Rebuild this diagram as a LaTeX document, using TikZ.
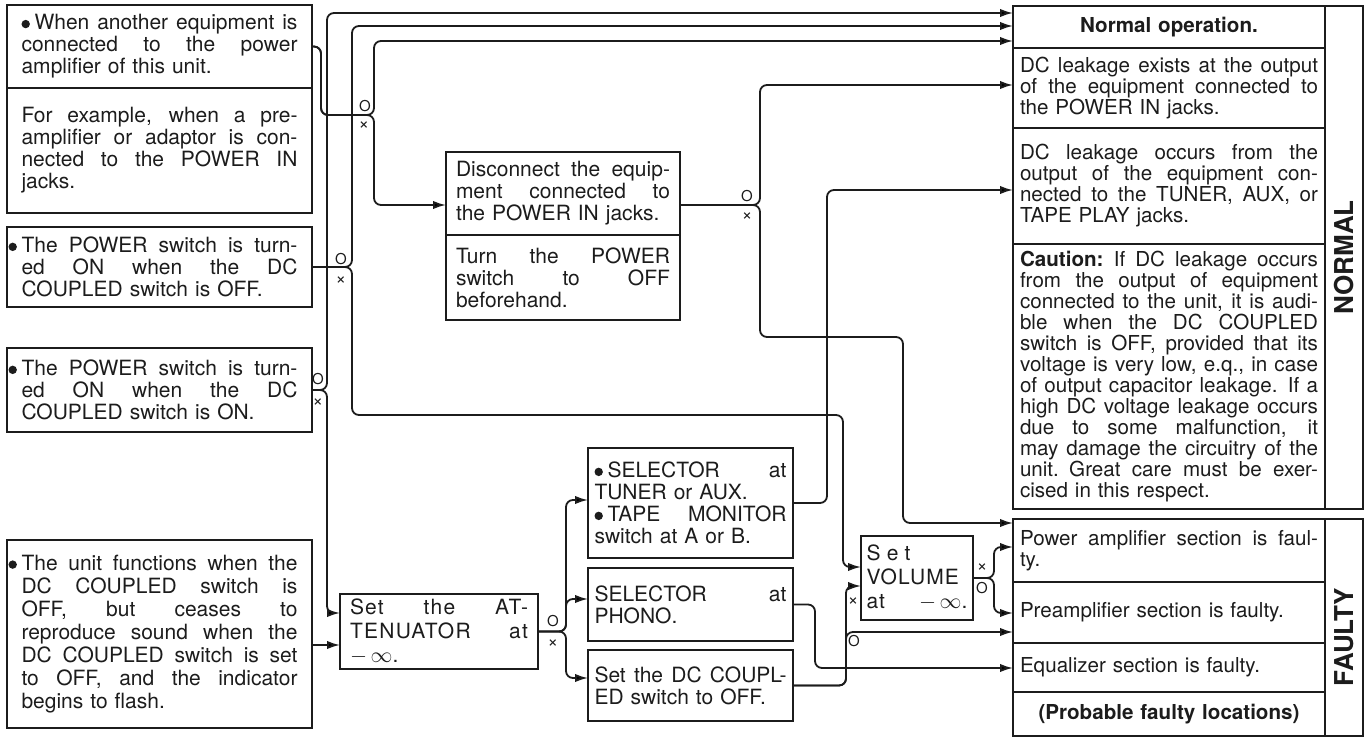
\documentclass[tikz,border=0pt]{standalone}
\usepackage{fontspec}
\setmainfont{TeX Gyre Heros}
\usepackage{tikz}
\usetikzlibrary{positioning,arrows.meta}
\definecolor{ink}{HTML}{1C1C1C}
\newcommand{\jl}[1]{\makebox[\linewidth][s]{\spaceskip=0.28em plus 4em\relax #1}}
\newcommand{\dotitem}{\makebox[6.5pt][l]{\tikz[baseline=-2.9pt]\fill[ink] (0,0) circle (2.1pt);}}
\newcommand{\minf}{$-\,\infty$}
\tikzset{
  box/.style={draw=ink,line width=1pt,outer sep=0pt,inner sep=0pt,
    anchor=north west,align=left,text=ink,font=\fontsize{10.5}{11}\selectfont},
  cond/.style={box,minimum width=152.5pt,text width=138pt},
  act/.style={box,minimum width=102.5pt,text width=96pt},
  panel/.style={box,minimum width=156pt,text width=149pt,
    font=\fontsize{10.3}{10.5}\selectfont},
  tagcol/.style={draw=ink,line width=1pt,outer sep=0pt,inner sep=0pt,
    anchor=north west,minimum width=19pt},
  tagtext/.style={rotate=90,text=ink,font=\bfseries\fontsize{13}{13}\selectfont},
  wire/.style={draw=ink,line width=0.9pt,rounded corners=3.5pt},
  arrow/.style={wire,-{Latex[length=6.5pt,width=4.2pt]}},
  flag/.style={inner sep=0pt,text=ink,font=\fontsize{7.5}{7.5}\selectfont},
  nflag/.style={inner sep=0pt,text=ink,font=\fontsize{9}{9}\selectfont}
}
\begin{document}
\begin{tikzpicture}[x=0.5pt,y=-0.5pt]
\useasboundingbox (0,0) rectangle (1372,738);

\node[cond,minimum height=41.5pt] (equip) at (7,5)
  {\jl{\dotitem When another equipment is}\\\jl{connected to the power}\\amplifier of this unit.};
\node[cond,minimum height=62.5pt,below=0pt of equip] (example)
  {\jl{For example, when a pre-}\\\jl{amplifier or adaptor is con-}\\\jl{nected to the POWER IN}\\jacks.};
\node[cond,minimum height=40pt] (pwroff) at (7,227)
  {\jl{\llap{\dotitem}The POWER switch is turn-}\\\jl{ed ON when the DC}\\COUPLED switch is OFF.};
\node[cond,minimum height=42pt] (pwron) at (7,348)
  {\jl{\llap{\dotitem}The POWER switch is turn-}\\\jl{ed ON when the DC}\\COUPLED switch is ON.};
\node[cond,minimum height=94pt,font=\fontsize{10.5}{11.5}\selectfont] (flash) at (7,540)
  {\jl{\llap{\dotitem}The unit functions when the}\\\jl{DC COUPLED switch is}\\\jl{OFF, but ceases to}\\
   \jl{reproduce sound when the}\\\jl{DC COUPLED switch is set}\\\jl{to OFF, and the indicator}\\begins to flash.};

\node[box,minimum width=117pt,minimum height=41.5pt,text width=107pt] (disc) at (446,152)
  {\jl{Disconnect the equip-}\\\jl{ment connected to}\\the POWER IN jacks.};
\node[box,minimum width=117pt,minimum height=42.5pt,text width=107pt,below=0pt of disc] (turnoff)
  {\jl{Turn the POWER}\\\jl{switch to OFF}\\beforehand.};
\node[box,minimum width=99pt,minimum height=37.5pt,text width=89pt,
  font=\fontsize{10.5}{12}\selectfont\addfontfeature{LetterSpace=6}] (atten) at (340,594)
  {\jl{Set the AT-}\\\jl{TENUATOR at}\\\minf.};
\node[act,minimum height=55pt] (sel) at (588,448)
  {\jl{\dotitem SELECTOR at}\\TUNER or AUX.\\\jl{\dotitem TAPE MONITOR}\\switch at A or B.};
\node[act,minimum height=36.5pt,below=5pt of sel] (phono) {\jl{SELECTOR at}\\PHONO.};
\node[act,minimum height=35.5pt,below=4.5pt of phono] (dcoff) {\jl{Set the DC COUPL-}\\ED switch to OFF.};
\node[box,minimum width=56pt,minimum height=42pt,text width=50.5pt,
  font=\fontsize{10.5}{12}\selectfont\addfontfeature{LetterSpace=5}] (vol) at (861,536)
  {{\addfontfeature{LetterSpace=30}Set}\\VOLUME\\\jl{at \minf.}};

\node[panel,minimum height=21pt,align=center,font=\bfseries\fontsize{10.3}{10.5}\selectfont] (opnormal) at (1013,6)
  {Normal operation.};
\node[panel,minimum height=40pt,below=0pt of opnormal] (leak1)
  {\jl{DC leakage exists at the output}\\\jl{of the equipment connected to}\\the POWER IN jacks.};
\node[panel,minimum height=58pt,below=0pt of leak1] (leak2)
  {\jl{DC leakage occurs from the}\\\jl{output of the equipment con-}\\\jl{nected to the TUNER, AUX, or}\\TAPE PLAY jacks.};
\node[panel,minimum height=132.5pt,below=0pt of leak2] (caution)
  {\jl{\textbf{Caution:} If DC leakage occurs}\\\jl{from the output of equipment}\\\jl{connected to the unit, it is audi-}\\
   \jl{ble when the DC COUPLED}\\\jl{switch is OFF, provided that its}\\\jl{voltage is very low, e.q., in case}\\
   \jl{of output capacitor leakage. If a}\\\jl{high DC voltage leakage occurs}\\\jl{due to some malfunction, it}\\
   \jl{may damage the circuitry of the}\\\jl{unit. Great care must be exer-}\\cised in this respect.};
\node[tagcol,minimum height=251.5pt,label={[tagtext]center:NORMAL}] (normtag) at (opnormal.north east) {};

\node[panel,minimum height=31.5pt] (pwramp) at (1013,519) {\jl{Power amplifier section is faul-}\\ty.};
\node[panel,minimum height=30.5pt,below=0pt of pwramp] (preamp) {Preamplifier section is faulty.};
\node[panel,minimum height=24.5pt,below=0pt of preamp] (eqsec) {Equalizer section is faulty.};
\node[panel,minimum height=22pt,below=0pt of eqsec,align=center,font=\bfseries\fontsize{10.3}{10.5}\selectfont] (probable)
  {(Probable faulty locations)};
\node[tagcol,minimum height=108.5pt,label={[yshift=-4.75pt,tagtext]center:FAULTY}] (faulttag) at (pwramp.north east) {};

\coordinate (inOK1) at ([yshift=-3.5pt]opnormal.north west);
\coordinate (inOK2) at ([yshift=-10pt]opnormal.north west);
\coordinate (inOK3) at ([yshift=-17.5pt]opnormal.north west);
\coordinate (inLeak1) at ([yshift=-18.5pt]leak1.north west);
\coordinate (inLeak2) at ([yshift=-31pt]leak2.north west);
\coordinate (inPwr1) at ([yshift=-2pt]pwramp.north west);
\coordinate (inPwr2) at ([yshift=-14pt]pwramp.north west);
\coordinate (inPre1) at ([yshift=-15.5pt]preamp.north west);
\coordinate (inPre2) at ([yshift=-25pt]preamp.north west);
\coordinate (inEq) at ([yshift=-12.5pt]eqsec.north west);
\coordinate (discIn) at ([yshift=-26.5pt]disc.north west);
\coordinate (discOut) at (disc.east |- discIn);
\coordinate (attIn1) at ([yshift=-9.5pt]atten.north west);
\coordinate (attIn2) at ([yshift=-25.5pt]atten.north west);
\coordinate (selIn) at ([yshift=-26pt]sel.north west);
\coordinate (phonoIn) at ([yshift=-15.5pt]phono.north west);
\coordinate (dcoffIn) at ([yshift=-14pt]dcoff.north west);
\coordinate (volIn1) at ([yshift=-15.5pt]vol.north west);
\coordinate (volIn2) at ([yshift=-25pt]vol.north west);
\coordinate (sA) at (374,115);
\coordinate (kB) at (843,415);
\coordinate (kE) at (903,337);

\draw[arrow] (equip.east) -- ++(9,0) |- (sA) |- (inOK3);
\draw[arrow] (equip.east) -- ++(9,0) |- (sA) |- (discIn);
\draw[arrow] (pwroff.east) -- ++(40,0) |- (inOK2);
\draw[arrow] (pwroff.east) -- ++(40,0) |- (kB) |- (volIn1);
\draw[arrow] (pwron.east) -- ++(15,0) |- (inOK1);
\draw[arrow] (pwron.east) -- ++(15,0) |- (attIn1);
\draw[arrow] (flash.east |- attIn2) -- (attIn2);
\draw[arrow] (discOut) -- ++(80,0) |- (inLeak1);
\draw[arrow] (discOut) -- ++(80,0) |- (kE) |- (inPwr1);
\draw[arrow] (atten.east) -- ++(28,0) |- (selIn);
\draw[arrow] (atten.east) -- ++(28,0) |- (phonoIn);
\draw[arrow] (atten.east) -- ++(28,0) |- (dcoffIn);
\draw[arrow] (sel.east) -- ++(34,0) |- (inLeak2);
\draw[arrow] (phono.east) -- ++(22,0) |- (inEq);
\draw[arrow] (dcoff.east) -- ++(53,0) |- (volIn2);
\draw[arrow] (dcoff.east) -- ++(53,0) |- (inPre2);
\draw[arrow] (vol.east) -- ++(21,0) |- (inPwr2);
\draw[arrow] (vol.east) -- ++(21,0) |- (inPre1);

\node[flag] (okA) at ([shift={(-9,-9)}]sA) {O};
\node[nflag] (ngA) at ([shift={(-10,11)}]sA) {×};
\node[flag] (okB) at ([shift={(29,-8)}]pwroff.east) {O};
\node[nflag] (ngB) at ([shift={(29,14)}]pwroff.east) {×};
\node[flag] (okC) at ([shift={(6,-11)}]pwron.east) {O};
\node[nflag] (ngC) at ([shift={(6,13)}]pwron.east) {×};
\node[flag] (okE) at ([shift={(67,-9)}]discOut) {O};
\node[nflag] (ngE) at ([shift={(67,12)}]discOut) {×};
\node[flag] (okF) at ([shift={(15,-10)}]atten.east) {O};
\node[nflag] (ngF) at ([shift={(15,12)}]atten.east) {×};
\node[nflag] (ngV) at ([shift={(9,-10)}]vol.east) {×};
\node[flag] (okV) at ([shift={(9,10)}]vol.east) {O};
\node[nflag] (ngG) at ([shift={(60,-83.5)}]dcoff.east) {×};
\node[flag] (okG) at ([shift={(61,-44.5)}]dcoff.east) {O};
\end{tikzpicture}
\end{document}
